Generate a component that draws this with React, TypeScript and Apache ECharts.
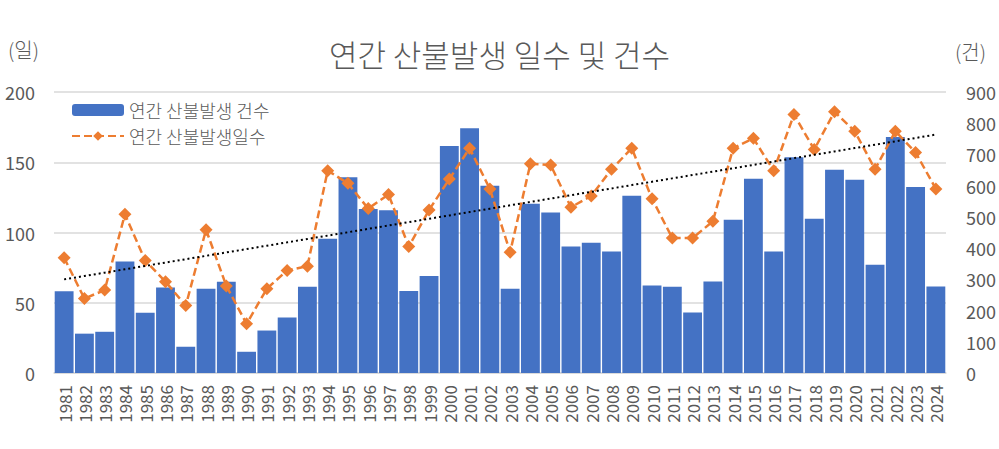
import React, { useEffect, useRef } from "react";
import * as echarts from "echarts";

const years = [
  "1981","1982","1983","1984","1985","1986","1987","1988","1989","1990",
  "1991","1992","1993","1994","1995","1996","1997","1998","1999","2000",
  "2001","2002","2003","2004","2005","2006","2007","2008","2009","2010",
  "2011","2012","2013","2014","2015","2016","2017","2018","2019","2020",
  "2021","2022","2023","2024",
];

const fireCounts = [
  262, 126, 132, 357, 193, 274, 84, 270, 292, 68,
  136, 178, 276, 430, 627, 525, 521, 263, 311, 727,
  784, 600, 270, 542, 514, 405, 417, 389, 568, 280,
  276, 194, 293, 491, 622, 389, 691, 494, 651, 619,
  347, 756, 596, 277,
];

const fireDays = [
  82, 53, 59, 113, 80, 65, 48, 102, 62, 35,
  60, 73, 76, 144, 135, 117, 127, 90, 116, 138,
  160, 131, 86, 149, 148, 118, 126, 145, 160, 124,
  96, 96, 108, 160, 167, 144, 184, 159, 186, 172,
  145, 172, 157, 131,
];

const leftTicks = { min: 0, max: 200, interval: 50 };
const rightTicks = { min: 0, max: 900, interval: 100 };

// linear least-squares trend of the days series
function trendOf(values: number[]): number[] {
  const n = values.length;
  let sx = 0, sy = 0, sxy = 0, sxx = 0;
  values.forEach((v, i) => {
    sx += i; sy += v; sxy += i * v; sxx += i * i;
  });
  const slope = (n * sxy - sx * sy) / (n * sxx - sx * sx);
  const icept = (sy - slope * sx) / n;
  return values.map((_, i) => +(icept + slope * i).toFixed(2));
}

const FONT = "'Noto Sans CJK KR', 'Noto Sans', sans-serif";
const GREY = "#595959";

export default function App() {
  const ref = useRef<HTMLDivElement>(null);
  useEffect(() => {
    if (!ref.current) return;
    const chart = echarts.init(ref.current, undefined, { renderer: "svg" });
    const trend = trendOf(fireDays);
    chart.setOption({
      animation: false,
      backgroundColor: "#ffffff",
      textStyle: { fontFamily: FONT },
      title: {
        text: "연간 산불발생 일수 및 건수",
        left: "center",
        top: 33,
        textStyle: { fontSize: 31, fontWeight: 300, color: GREY, fontFamily: FONT },
      },
      legend: {
        data: ["연간 산불발생 건수", "연간 산불발생일수"],
        orient: "vertical",
        left: 66,
        top: 95,
        itemWidth: 52,
        itemHeight: 12,
        itemGap: 6,
        textStyle: { fontSize: 18, lineHeight: 20, fontWeight: 300, color: GREY, fontFamily: FONT },
      },
      graphic: [
        { type: "text", left: 8, top: 39, style: { text: "(일)", fontSize: 20, fontWeight: 300, fill: GREY, fontFamily: FONT } },
        { type: "text", left: 955, top: 41, style: { text: "(건)", fontSize: 20, fontWeight: 300, fill: GREY, fontFamily: FONT } },
      ],
      grid: { left: 54, right: 53, top: 92, bottom: 76, containLabel: false },
      xAxis: {
        type: "category",
        data: years,
        axisTick: { show: false },
        axisLine: { show: true, lineStyle: { color: "#d9d9d9", width: 1.5 } },
        axisLabel: { rotate: 90, fontSize: 17, color: GREY, margin: 12, interval: 0, fontFamily: FONT },
      },
      yAxis: [
        {
          type: "value",
          ...leftTicks,
          axisLine: { show: false },
          axisTick: { show: false },
          splitLine: { show: true, lineStyle: { color: "#d9d9d9", width: 1.5 } },
          axisLabel: { fontSize: 18, color: GREY, margin: 19, fontFamily: FONT },
        },
        {
          type: "value",
          ...rightTicks,
          axisLine: { show: false },
          axisTick: { show: false },
          splitLine: { show: false },
          axisLabel: { fontSize: 18, color: GREY, margin: 20, fontFamily: FONT },
        },
      ],
      series: [
        {
          name: "연간 산불발생 건수",
          type: "bar",
          yAxisIndex: 1,
          data: fireCounts,
          barCategoryGap: "7%",
          itemStyle: { color: "#4472C4" },
          z: 1,
        },
        {
          name: "연간 산불발생일수",
          type: "line",
          yAxisIndex: 0,
          data: fireDays,
          symbol: "diamond",
          symbolSize: 13,
          itemStyle: { color: "#ED7D31" },
          lineStyle: { color: "#ED7D31", width: 2.5, type: [8, 4] },
          z: 3,
        },
        {
          name: "trend",
          type: "line",
          yAxisIndex: 0,
          data: trend,
          symbol: "none",
          lineStyle: { color: "#000000", width: 2, type: [2, 3] },
          z: 4,
        },
      ],
    });
    return () => chart.dispose();
  }, []);
  return <div ref={ref} style={{ width: 999, height: 449, position: "absolute", left: 0, top: 0 }} />;
}
